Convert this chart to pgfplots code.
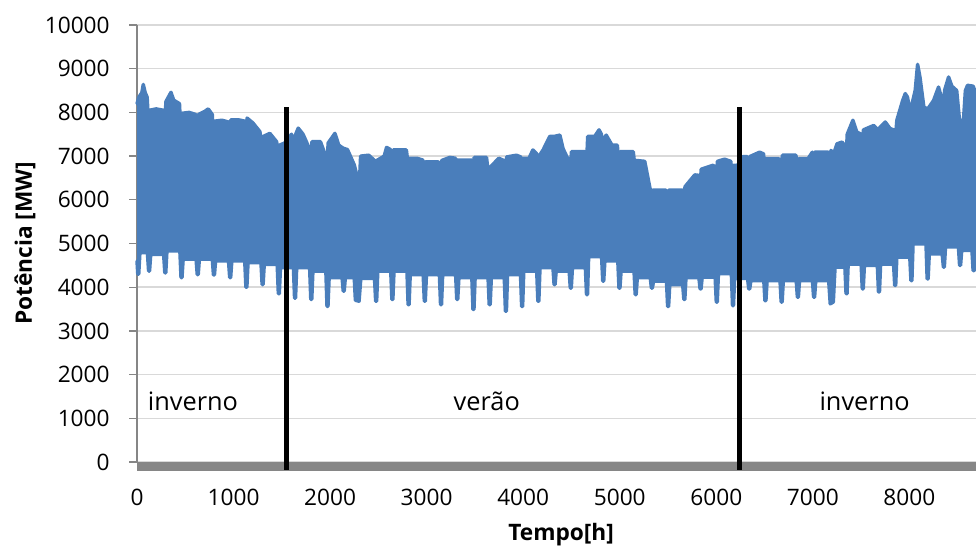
\documentclass[border=0pt]{standalone}
\usepackage{pgfplots}
\pgfplotsset{compat=1.18}
\usepgfplotslibrary{fillbetween}
\usepackage{fontspec}
\setmainfont{Open Sans}
\definecolor{loadblue}{HTML}{4A7EBB}
\definecolor{axgray}{HTML}{868686}
\definecolor{gridgray}{HTML}{D9D9D9}
\begin{document}
\begin{tikzpicture}
\begin{axis}[
  name=ax,
  scale only axis,
  width=629.25pt, height=327.75pt,
  xmin=0, xmax=8690, ymin=0, ymax=10000,
  clip=false,
  axis x line*=bottom, axis y line*=left,
  x axis line style={draw=none},
  y axis line style={axgray, line width=1pt},
  ytick={0,1000,...,10000},
  xtick={0,1000,...,8000},
  tick align=outside,
  major tick length=6pt,
  ytick style={axgray, line width=1pt},
  xtick style={draw=none},
  ymajorgrids,
  major grid style={gridgray, line width=1.2pt},
  scaled ticks=false,
  tick label style={font=\fontsize{17}{20}\selectfont},
  yticklabel style={xshift=-11pt},
  xticklabel style={yshift=-10.5pt},
  /pgf/number format/assume math mode=true,
  /pgf/number format/1000 sep={},
  xlabel={Tempo[h]},
  ylabel={Potência [MW]},
  xlabel style={at={(axis description cs:0.5054,-0.167)}, anchor=center, font=\fontsize{17}{20}\selectfont\bfseries},
  ylabel style={at={(axis description cs:-0.1335,0.5)}, anchor=center, font=\fontsize{17}{20}\selectfont\bfseries},
]
% thick grey horizontal axis band
\fill[axgray] (axis cs:0,0) rectangle (axis cs:8690,-206);

\addplot[name path=U, draw=loadblue, line width=2.6pt, line join=round, line cap=round] coordinates {
(0,8200) (20,8350) (50,8450) (65,8640) (85,8450) (105,8350) (120,7750)
(132,8050) (200,8080) (270,8050) (288,7800)
(300,8250) (352,8460) (380,8280) (440,8200) (456,7450)
(468,7980) (540,8000) (610,7950) (624,7500)
(636,7950) (700,8020) (738,8080) (780,7950) (792,7300)
(804,7800) (880,7820) (948,7780) (960,7300)
(972,7830) (1050,7830) (1116,7800) (1128,7450)
(1140,7870) (1200,7760) (1273,7560) (1296,7150)
(1308,7450) (1376,7520) (1446,7330) (1464,7050)
(1476,7250) (1530,7300) (1600,7500) (1632,7300)
(1644,7500) (1670,7640) (1720,7500) (1780,7200) (1800,6900)
(1812,7330) (1900,7330) (1945,7060) (1968,6800)
(1980,7300) (2050,7520) (2090,7250) (2136,7180)
(2180,7150) (2250,6800) (2290,6450) (2304,6400)
(2316,7000) (2400,7020) (2460,6900) (2472,6600)
(2484,6900) (2560,7000) (2585,7200) (2625,7150) (2640,6800)
(2652,7140) (2790,7140) (2808,6800)
(2820,6950) (2900,6950) (2960,6910) (2976,6500)
(2988,6870) (3120,6870) (3144,6500)
(3156,6900) (3240,6970) (3300,6950) (3312,6500)
(3324,6910) (3465,6910) (3480,6500)
(3492,6970) (3620,6970) (3648,6450)
(3660,6750) (3747,6950) (3800,6900) (3816,6500)
(3828,6980) (3930,7020) (3975,6980) (3984,6550)
(3996,6950) (4060,6950) (4100,7140) (4140,7050) (4152,6700)
(4164,7000) (4206,7140) (4275,7450) (4320,7450)
(4380,7480) (4413,7170) (4460,6950) (4488,6700)
(4500,7100) (4640,7100) (4656,6800)
(4668,7450) (4740,7450) (4786,7600) (4810,7500) (4824,7100)
(4836,7400) (4860,7480) (4920,7250) (4975,7250) (4992,6800)
(5004,7100) (5140,7100) (5160,6700)
(5172,6900) (5259,6880) (5310,6300) (5328,6100)
(5340,6220) (5480,6220) (5496,5950)
(5508,6220) (5650,6220) (5664,5950)
(5676,6300) (5777,6570) (5815,6560) (5832,6300)
(5844,6700) (5966,6790) (5988,6750) (6000,6500)
(6012,6880) (6086,6930) (6150,6880) (6168,6500)
(6180,6790) (6220,6790) (6277,6990) (6320,6990) (6336,6700)
(6348,6990) (6449,7090) (6490,7050) (6504,6600)
(6516,6940) (6650,6940) (6672,6600)
(6684,7020) (6825,7020) (6840,6600)
(6852,6940) (6950,6940) (6995,7090) (7008,6700)
(7020,7090) (7160,7090) (7176,6800)
(7188,7130) (7215,7050) (7250,7280) (7302,7320) (7330,7250) (7344,6900)
(7356,7500) (7415,7820) (7455,7550) (7500,7500) (7512,7100)
(7524,7600) (7629,7700) (7668,7620) (7680,7200)
(7692,7650) (7750,7780) (7800,7630) (7836,7600) (7848,7200)
(7870,7820) (7930,8270) (7957,8430) (7980,8350) (8005,8050) (8016,7600)
(8028,8200) (8060,8500) (8085,9100) (8110,8800) (8150,8120) (8172,8100) (8184,7700)
(8196,8100) (8250,8270) (8302,8580) (8340,8270) (8352,7800)
(8364,8500) (8406,8810) (8440,8600) (8490,8500) (8520,7800)
(8532,7820) (8560,7820) (8580,8500) (8602,8620) (8660,8600) (8690,8430)
};

\addplot[name path=L, draw=loadblue, line width=2.6pt, line join=round, line cap=round] coordinates {
(0,4600) (8,4300) (18,4300) (30,4790)
(108,4790) (120,4370) (130,4370) (142,4750)
(276,4750) (288,4330) (298,4330) (310,4830)
(444,4830) (456,4220) (466,4220) (478,4640)
(612,4640) (624,4290) (634,4290) (646,4640)
(780,4640) (792,4280) (802,4280) (814,4600)
(948,4600) (960,4220) (970,4220) (982,4600)
(1116,4600) (1128,4000) (1138,4000) (1150,4560)
(1284,4560) (1296,4060) (1306,4060) (1318,4520)
(1452,4520) (1464,3850) (1474,3850) (1486,4450)
(1620,4450) (1632,3750) (1642,3750) (1654,4450)
(1788,4450) (1800,3720) (1810,3720) (1822,4370)
(1956,4370) (1968,3560) (1978,3560) (1990,4220)
(2124,4220) (2136,3910) (2146,3910) (2158,4220)
(2250,4220) (2262,3700) (2300,3680) (2318,4200)
(2460,4200) (2472,3680) (2482,3680) (2494,4370)
(2628,4370) (2640,3720) (2650,3720) (2662,4370)
(2796,4370) (2808,3600) (2818,3600) (2830,4290)
(2964,4290) (2976,3680) (2986,3680) (2998,4290)
(3132,4290) (3144,3600) (3154,3600) (3166,4290)
(3300,4290) (3312,3720) (3322,3720) (3334,4220)
(3468,4220) (3480,3490) (3490,3490) (3502,4220)
(3636,4220) (3648,3600) (3658,3600) (3670,4220)
(3804,4220) (3816,3450) (3826,3450) (3838,4290)
(3972,4290) (3984,3560) (3994,3560) (4006,4370)
(4140,4370) (4152,3680) (4162,3680) (4174,4450)
(4308,4450) (4320,4060) (4330,4060) (4342,4370)
(4476,4370) (4488,3980) (4498,3980) (4510,4450)
(4644,4450) (4656,3830) (4666,3830) (4678,4700)
(4812,4700) (4824,4140) (4834,4140) (4846,4600)
(4980,4600) (4992,3980) (5002,3980) (5014,4370)
(5148,4370) (5160,3830) (5170,3830) (5182,4220)
(5316,4220) (5328,3980) (5338,3980) (5350,4140)
(5484,4140) (5496,3560) (5506,3560) (5518,4060)
(5652,4060) (5664,3720) (5674,3720) (5686,4220)
(5820,4220) (5832,3960) (5842,3960) (5854,4230)
(5988,4230) (6000,3660) (6010,3660) (6022,4310)
(6156,4310) (6168,3580) (6178,3580) (6190,4200)
(6324,4200) (6336,3960) (6346,3960) (6358,4150)
(6492,4150) (6504,3690) (6514,3690) (6526,4150)
(6660,4150) (6672,3660) (6682,3660) (6694,4150)
(6828,4150) (6840,3770) (6850,3770) (6862,4150)
(6996,4150) (7008,3770) (7018,3770) (7030,4150)
(7164,4150) (7180,3620) (7212,3660) (7230,4460)
(7332,4460) (7344,3850) (7354,3850) (7366,4530)
(7500,4530) (7512,3960) (7522,3960) (7534,4500)
(7668,4500) (7680,3890) (7690,3890) (7702,4530)
(7836,4530) (7848,4040) (7858,4040) (7870,4690)
(8004,4690) (8016,4150) (8026,4150) (8038,4990)
(8172,4990) (8184,4190) (8194,4190) (8206,4760)
(8340,4760) (8352,4460) (8362,4460) (8374,4920)
(8508,4920) (8520,4500) (8530,4500) (8542,4840)
(8648,4840) (8660,4380) (8670,4380) (8690,4500)
};

\addplot[fill=loadblue, draw=none] fill between[of=U and L];

% season separators
\addplot[black, line width=3.75pt] coordinates {(1549,-180) (1549,8120)};
\addplot[black, line width=3.75pt] coordinates {(6237,-180) (6237,8120)};

\node[anchor=base, font=\fontsize{19}{22}\selectfont] at (axis cs:580,1170) {inverno};
\node[anchor=base, font=\fontsize{19}{22}\selectfont] at (axis cs:3623,1170) {verão};
\node[anchor=base, font=\fontsize{19}{22}\selectfont] at (axis cs:7536,1170) {inverno};
\end{axis}
\pgfresetboundingbox
\path[use as bounding box] ([xshift=-102.75pt,yshift=-65.25pt]ax.south west) rectangle ([yshift=18.75pt]ax.north east);
\end{tikzpicture}
\end{document}
